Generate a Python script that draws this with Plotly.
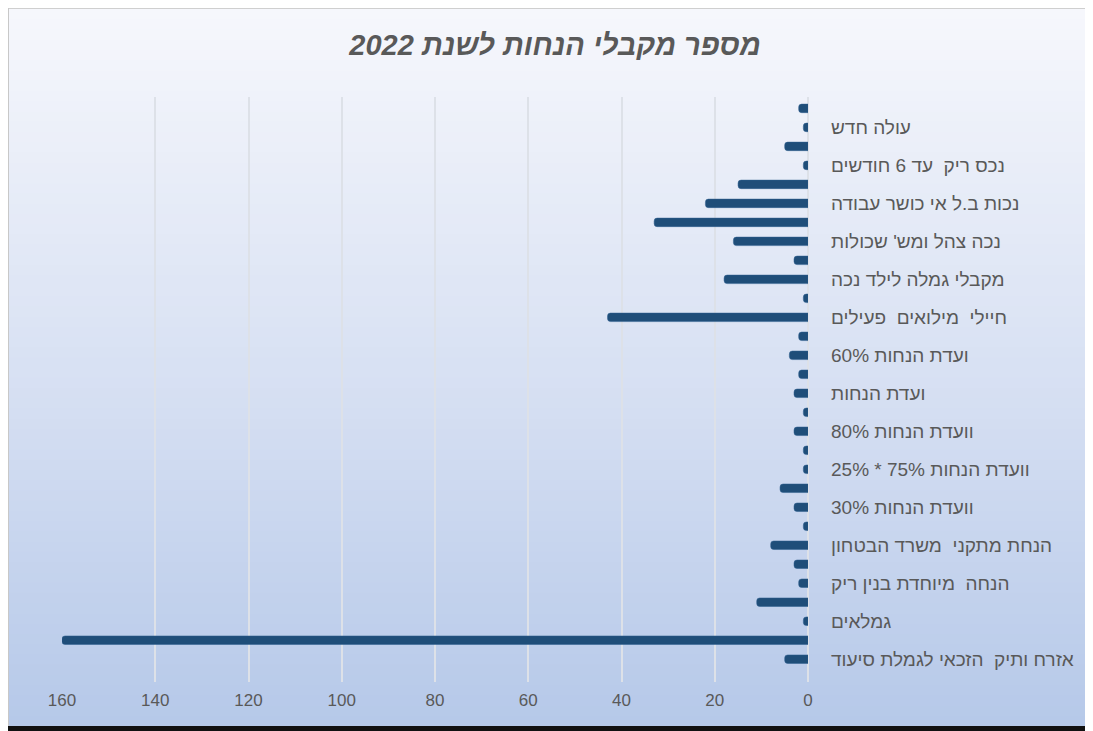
import plotly.graph_objects as go

# Bars listed top to bottom (30 bars, Excel shows a label on every second one)
values = [2, 1, 5, 1, 15, 22, 33, 16, 3, 18,
          1, 43, 2, 4, 2, 3, 1, 3, 1, 1,
          6, 3, 1, 8, 3, 2, 11, 1, 160, 5]

# Labels shown (on bars 2, 4, 6, ... 30 from the top)
labels = [
    "עולה חדש",
    "נכס ריק  עד 6 חודשים",
    "נכות ב.ל אי כושר עבודה",
    "נכה צהל ומש' שכולות",
    "מקבלי גמלה לילד נכה",
    "חיילי  מילואים  פעילים",
    "ועדת הנחות 60%",
    "ועדת הנחות",
    "וועדת הנחות 80%",
    "וועדת הנחות 75% * 25%",
    "וועדת הנחות 30%",
    "הנחת מתקני  משרד הבטחון",
    "הנחה  מיוחדת בנין ריק",
    "גמלאים",
    "אזרח ותיק  הזכאי לגמלת סיעוד",
]
x_ticks = [0, 20, 40, 60, 80, 100, 120, 140, 160]
title = "מספר מקבלי הנחות לשנת 2022"

positions = list(range(len(values)))
label_positions = positions[1::2]

SCREEN_W, SCREEN_H = 1093, 731
OFF = 8  # page body margin offset
W, H = SCREEN_W + OFF, SCREEN_H
ML, MR, MT, MB = 62 - OFF, W - (808 - OFF), 97 - OFF, H - (682 - OFF)
PW, PH = W - ML - MR, H - MT - MB


def px(x):  # screen x -> paper
    return (x - OFF - ML) / PW


def py(y):  # screen y -> paper
    return (H - MB - (y - OFF)) / PH


fig = go.Figure()
fig.add_trace(go.Bar(
    x=values, y=positions, orientation="h",
    marker=dict(color="#1F4E79", cornerradius=3,
                line=dict(color="#2E5F8E", width=0.5)),
    width=0.45, hoverinfo="x",
))

# gradient background (strips)
top = (246, 247, 252)
mid = (216, 225, 243)
bot = (182, 201, 233)
n = 70
ytop, ybot = 9, 726
shapes = []
for i in range(n):
    t = i / (n - 1)
    if t < 0.5:
        a, b, u = top, mid, t / 0.5
    else:
        a, b, u = mid, bot, (t - 0.5) / 0.5
    c = tuple(round(a[k] + (b[k] - a[k]) * u) for k in range(3))
    ya = ytop + (ybot - ytop) * i / n
    yb = ytop + (ybot - ytop) * (i + 1) / n + 0.8
    shapes.append(dict(type="rect", xref="paper", yref="paper",
                       x0=px(9), x1=px(SCREEN_W + 30), y0=py(yb), y1=py(ya),
                       fillcolor="rgb(%d,%d,%d)" % c, line=dict(width=0),
                       layer="below"))
# frame lines
shapes.append(dict(type="line", xref="paper", yref="paper", x0=px(8), x1=px(SCREEN_W + 30),
                   y0=py(8), y1=py(8), line=dict(color="#CFCFCF", width=2),
                   layer="below"))
shapes.append(dict(type="line", xref="paper", yref="paper", x0=px(8), x1=px(8),
                   y0=py(726), y1=py(8), line=dict(color="#C8C8C8", width=2),
                   layer="below"))
shapes.append(dict(type="rect", xref="paper", yref="paper", x0=px(0), x1=px(SCREEN_W + 30),
                   y0=py(SCREEN_H + 20), y1=py(726), fillcolor="#111111", line=dict(width=0),
                   layer="below"))

fig.update_layout(
    width=W, height=H,
    margin=dict(l=ML, r=MR, t=MT, b=MB),
    paper_bgcolor="white",
    plot_bgcolor="rgba(0,0,0,0)",
    shapes=shapes,
    showlegend=False,
    title=dict(text="<b><i>" + title + "</i></b>", x=(555 - OFF) / W, xanchor="center",
               y=1 - (45 - OFF) / H, yanchor="middle",
               font=dict(family="Liberation Sans Narrow, Liberation Sans, Arial",
                         size=29, color="#595959")),
    xaxis=dict(range=[160, 0], tickvals=x_ticks, ticktext=[str(v) for v in x_ticks],
               showgrid=True, gridcolor="#DDE1E8", gridwidth=2,
               zeroline=True, zerolinecolor="#DDE1E8", zerolinewidth=2,
               showline=False, ticks="", ticklabelstandoff=6,
               tickfont=dict(family="Liberation Sans Narrow, Liberation Sans, Arial",
                             size=17, color="#595959")),
    yaxis=dict(range=[30.2, -0.6], side="right", tickvals=label_positions,
               ticktext=labels, showgrid=False, zeroline=False, showline=False,
               ticks="", ticklabelstandoff=22,
               tickfont=dict(family="Liberation Sans, Arial", size=19, color="#595959")),
)

fig.write_html("out.html")
